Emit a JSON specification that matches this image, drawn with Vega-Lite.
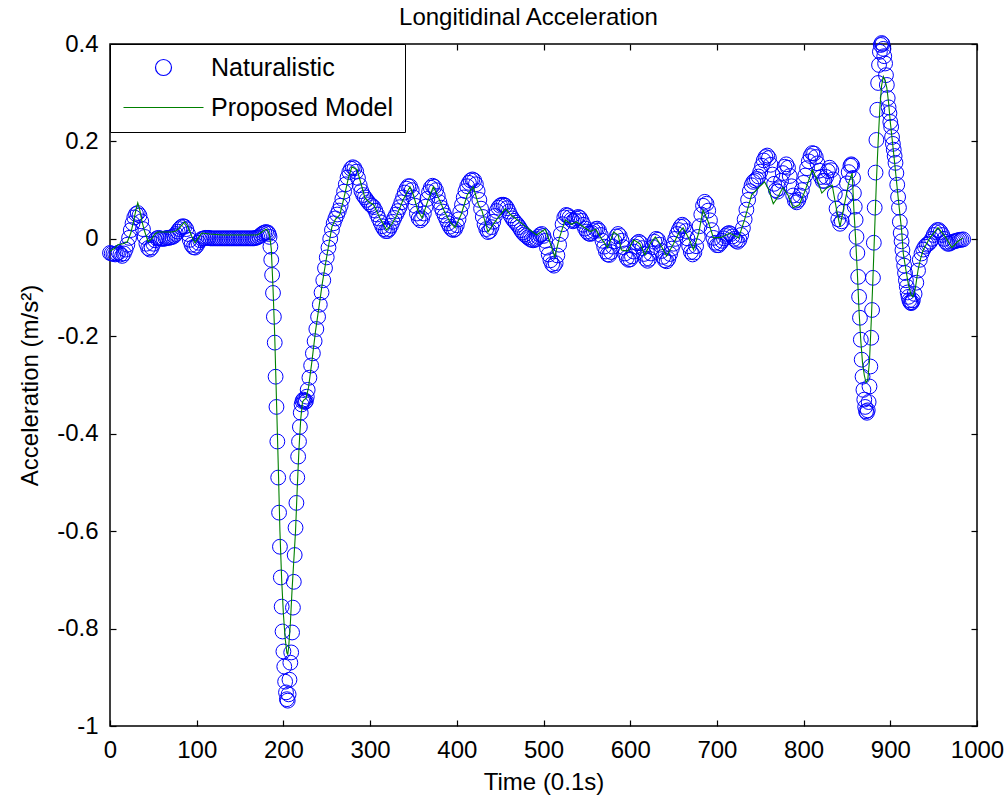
{
  "$schema": "https://vega.github.io/schema/vega-lite/v6.json",
  "width": 867,
  "height": 682,
  "autosize": "none",
  "padding": {"left": 110, "top": 44, "right": 31, "bottom": 77},
  "background": "white",
  "title": {"text": "Longitidinal Acceleration", "fontSize": 24, "fontWeight": "normal", "font": "Liberation Sans", "color": "black", "offset": 2, "dx": -15},
  "config": {
    "font": "Liberation Sans",
    "view": {"stroke": "black", "strokeWidth": 1.5},
    "axis": {
      "grid": false, "domain": false, "tickColor": "black", "tickSize": -6, "tickWidth": 1.2,
      "labelFontSize": 24, "labelColor": "black", "labelPadding": 18, "labelFont": "Liberation Sans",
      "labelFlush": false, "labelOverlap": false,
      "titleFontSize": 24, "titleFontWeight": "normal", "titleColor": "black", "titleFont": "Liberation Sans"
    },
    "legend": {
      "fillColor": "white", "strokeColor": "black", "padding": 11, "labelFontSize": 25, "labelColor": "black", "labelLimit": 0,
      "labelFont": "Liberation Sans", "symbolSize": 256, "symbolOffset": 30, "labelOffset": 35, "rowPadding": 14,
      "symbolStrokeWidth": 1.2, "symbolFillColor": "transparent"
    }
  },
  "datasets": {
    "nat": [
      {"t":0,"a":-0.029},{"t":2,"a":-0.03},{"t":4,"a":-0.031},{"t":6,"a":-0.032},{"t":8,"a":-0.03},{"t":10,"a":-0.028},{"t":12,"a":-0.032},{"t":14,"a":-0.035},{"t":16,"a":-0.03},{"t":18,"a":-0.022},
      {"t":20,"a":-0.012},{"t":22,"a":0.002},{"t":24,"a":0.018},{"t":26,"a":0.032},{"t":28,"a":0.044},{"t":30,"a":0.051},{"t":32,"a":0.053},{"t":34,"a":0.048},{"t":36,"a":0.036},{"t":38,"a":0.02},
      {"t":40,"a":0.004},{"t":42,"a":-0.01},{"t":44,"a":-0.019},{"t":46,"a":-0.022},{"t":48,"a":-0.018},{"t":50,"a":-0.01},{"t":52,"a":-0.003},{"t":54,"a":0.001},{"t":56,"a":0.002},{"t":58,"a":0.001},
      {"t":60,"a":0.0},{"t":62,"a":0.0},{"t":64,"a":0.001},{"t":66,"a":0.002},{"t":68,"a":0.002},{"t":70,"a":0.003},{"t":72,"a":0.004},{"t":74,"a":0.006},{"t":76,"a":0.01},{"t":78,"a":0.015},
      {"t":80,"a":0.02},{"t":82,"a":0.024},{"t":84,"a":0.026},{"t":86,"a":0.025},{"t":88,"a":0.02},{"t":90,"a":0.01},{"t":92,"a":-0.002},{"t":94,"a":-0.012},{"t":96,"a":-0.017},{"t":98,"a":-0.018},
      {"t":100,"a":-0.014},{"t":102,"a":-0.008},{"t":104,"a":-0.003},{"t":106,"a":0.0},{"t":108,"a":0.001},{"t":110,"a":0.002},{"t":112,"a":0.002},{"t":114,"a":0.002},{"t":116,"a":0.001},{"t":118,"a":0.001},
      {"t":120,"a":0.001},{"t":122,"a":0.001},{"t":124,"a":0.001},{"t":126,"a":0.001},{"t":128,"a":0.001},{"t":130,"a":0.001},{"t":132,"a":0.001},{"t":134,"a":0.001},{"t":136,"a":0.001},{"t":138,"a":0.001},
      {"t":140,"a":0.001},{"t":142,"a":0.001},{"t":144,"a":0.001},{"t":146,"a":0.001},{"t":148,"a":0.001},{"t":150,"a":0.001},{"t":152,"a":0.001},{"t":154,"a":0.001},{"t":156,"a":0.001},{"t":158,"a":0.001},
      {"t":160,"a":0.001},{"t":162,"a":0.001},{"t":164,"a":0.001},{"t":166,"a":0.001},{"t":168,"a":0.002},{"t":170,"a":0.003},{"t":172,"a":0.005},{"t":174,"a":0.008},{"t":176,"a":0.011},{"t":178,"a":0.013},
      {"t":180,"a":0.014},{"t":182,"a":0.013},{"t":183,"a":0.01},{"t":184,"a":0.004},{"t":185,"a":-0.016},{"t":186,"a":-0.043},{"t":187,"a":-0.074},{"t":188,"a":-0.111},{"t":189,"a":-0.16},
      {"t":190,"a":-0.213},{"t":191,"a":-0.283},{"t":192,"a":-0.345},{"t":193,"a":-0.416},{"t":194,"a":-0.49},{"t":195,"a":-0.562},{"t":196,"a":-0.632},{"t":197,"a":-0.695},{"t":198,"a":-0.755},{"t":199,"a":-0.806},
      {"t":200,"a":-0.847},{"t":201,"a":-0.878},{"t":202,"a":-0.909},{"t":203,"a":-0.931},{"t":204,"a":-0.945},{"t":205,"a":-0.948},{"t":206,"a":-0.935},{"t":207,"a":-0.905},{"t":208,"a":-0.87},{"t":209,"a":-0.849},
      {"t":210,"a":-0.808},{"t":211,"a":-0.757},{"t":212,"a":-0.704},{"t":213,"a":-0.649},{"t":214,"a":-0.593},{"t":215,"a":-0.542},{"t":216,"a":-0.49},{"t":217,"a":-0.447},{"t":218,"a":-0.416},{"t":219,"a":-0.386},
      {"t":220,"a":-0.357},{"t":221,"a":-0.34},{"t":222,"a":-0.333},{"t":223,"a":-0.33},{"t":224,"a":-0.332},{"t":225,"a":-0.335},{"t":226,"a":-0.333},{"t":227,"a":-0.324},{"t":228,"a":-0.31},
      {"t":230,"a":-0.285},{"t":232,"a":-0.26},{"t":234,"a":-0.235},{"t":236,"a":-0.21},{"t":238,"a":-0.185},{"t":240,"a":-0.16},{"t":242,"a":-0.135},{"t":244,"a":-0.11},{"t":246,"a":-0.085},{"t":248,"a":-0.06},
      {"t":250,"a":-0.038},{"t":252,"a":-0.018},{"t":254,"a":0.0},{"t":256,"a":0.018},{"t":258,"a":0.032},{"t":260,"a":0.042},{"t":262,"a":0.05},{"t":264,"a":0.058},{"t":266,"a":0.068},{"t":268,"a":0.082},
      {"t":270,"a":0.097},{"t":272,"a":0.112},{"t":274,"a":0.126},{"t":276,"a":0.137},{"t":278,"a":0.144},{"t":280,"a":0.147},{"t":282,"a":0.145},{"t":284,"a":0.138},{"t":286,"a":0.125},{"t":288,"a":0.11},
      {"t":290,"a":0.098},{"t":292,"a":0.09},{"t":294,"a":0.085},{"t":296,"a":0.08},{"t":298,"a":0.075},{"t":300,"a":0.071},{"t":302,"a":0.068},{"t":304,"a":0.065},{"t":306,"a":0.058},{"t":308,"a":0.05},
      {"t":310,"a":0.042},{"t":312,"a":0.034},{"t":314,"a":0.026},{"t":316,"a":0.02},{"t":318,"a":0.016},{"t":320,"a":0.016},{"t":322,"a":0.02},{"t":324,"a":0.027},{"t":326,"a":0.035},{"t":328,"a":0.043},
      {"t":330,"a":0.05},{"t":332,"a":0.057},{"t":334,"a":0.065},{"t":336,"a":0.075},{"t":338,"a":0.085},{"t":340,"a":0.095},{"t":342,"a":0.103},{"t":344,"a":0.108},{"t":346,"a":0.108},{"t":348,"a":0.1},
      {"t":350,"a":0.085},{"t":352,"a":0.068},{"t":354,"a":0.052},{"t":356,"a":0.042},{"t":358,"a":0.038},{"t":360,"a":0.042},{"t":362,"a":0.052},{"t":364,"a":0.066},{"t":366,"a":0.082},{"t":368,"a":0.096},
      {"t":370,"a":0.105},{"t":372,"a":0.109},{"t":374,"a":0.107},{"t":376,"a":0.1},{"t":378,"a":0.088},{"t":380,"a":0.075},{"t":382,"a":0.064},{"t":384,"a":0.056},{"t":386,"a":0.048},{"t":388,"a":0.04},
      {"t":390,"a":0.032},{"t":392,"a":0.025},{"t":394,"a":0.02},{"t":396,"a":0.018},{"t":398,"a":0.02},{"t":400,"a":0.028},{"t":402,"a":0.04},{"t":404,"a":0.055},{"t":406,"a":0.07},{"t":408,"a":0.085},
      {"t":410,"a":0.098},{"t":412,"a":0.108},{"t":414,"a":0.115},{"t":416,"a":0.12},{"t":418,"a":0.122},{"t":420,"a":0.12},{"t":422,"a":0.112},{"t":424,"a":0.098},{"t":426,"a":0.08},{"t":428,"a":0.062},
      {"t":430,"a":0.045},{"t":432,"a":0.03},{"t":434,"a":0.02},{"t":436,"a":0.014},{"t":438,"a":0.016},{"t":440,"a":0.024},{"t":442,"a":0.035},{"t":444,"a":0.047},{"t":446,"a":0.057},{"t":448,"a":0.064},
      {"t":450,"a":0.068},{"t":452,"a":0.07},{"t":454,"a":0.07},{"t":456,"a":0.068},{"t":458,"a":0.063},{"t":460,"a":0.056},{"t":462,"a":0.048},{"t":464,"a":0.042},{"t":466,"a":0.037},{"t":468,"a":0.033},
      {"t":470,"a":0.029},{"t":472,"a":0.024},{"t":474,"a":0.018},{"t":476,"a":0.013},{"t":478,"a":0.009},{"t":480,"a":0.006},{"t":482,"a":0.003},{"t":484,"a":0.0},{"t":486,"a":-0.002},{"t":488,"a":-0.003},
      {"t":490,"a":-0.002},{"t":492,"a":0.0},{"t":494,"a":0.004},{"t":496,"a":0.008},{"t":498,"a":0.01},{"t":500,"a":0.006},{"t":502,"a":-0.004},{"t":504,"a":-0.018},{"t":506,"a":-0.032},{"t":508,"a":-0.044},
      {"t":510,"a":-0.052},{"t":512,"a":-0.055},{"t":514,"a":-0.05},{"t":516,"a":-0.034},{"t":518,"a":-0.012},{"t":520,"a":0.01},{"t":522,"a":0.03},{"t":524,"a":0.044},{"t":526,"a":0.049},{"t":528,"a":0.048},
      {"t":530,"a":0.044},{"t":532,"a":0.039},{"t":534,"a":0.036},{"t":536,"a":0.038},{"t":538,"a":0.042},{"t":540,"a":0.045},{"t":542,"a":0.043},{"t":544,"a":0.037},{"t":546,"a":0.029},{"t":548,"a":0.021},
      {"t":550,"a":0.015},{"t":552,"a":0.011},{"t":554,"a":0.01},{"t":556,"a":0.012},{"t":558,"a":0.016},{"t":560,"a":0.02},{"t":562,"a":0.021},{"t":564,"a":0.017},{"t":566,"a":0.008},{"t":568,"a":-0.004},
      {"t":570,"a":-0.016},{"t":572,"a":-0.026},{"t":574,"a":-0.032},{"t":576,"a":-0.033},{"t":578,"a":-0.027},{"t":580,"a":-0.016},{"t":582,"a":-0.005},{"t":584,"a":0.005},{"t":586,"a":0.01},{"t":588,"a":0.006},
      {"t":590,"a":-0.004},{"t":592,"a":-0.017},{"t":594,"a":-0.03},{"t":596,"a":-0.039},{"t":598,"a":-0.043},{"t":600,"a":-0.042},{"t":602,"a":-0.036},{"t":604,"a":-0.026},{"t":606,"a":-0.016},{"t":608,"a":-0.009},
      {"t":610,"a":-0.006},{"t":612,"a":-0.009},{"t":614,"a":-0.019},{"t":616,"a":-0.031},{"t":618,"a":-0.041},{"t":620,"a":-0.045},{"t":622,"a":-0.041},{"t":624,"a":-0.03},{"t":626,"a":-0.017},{"t":628,"a":-0.006},
      {"t":630,"a":0.0},{"t":632,"a":-0.002},{"t":634,"a":-0.012},{"t":636,"a":-0.025},{"t":638,"a":-0.037},{"t":640,"a":-0.044},{"t":642,"a":-0.046},{"t":644,"a":-0.041},{"t":646,"a":-0.031},{"t":648,"a":-0.02},
      {"t":650,"a":-0.01},{"t":652,"a":0.0},{"t":654,"a":0.01},{"t":656,"a":0.018},{"t":658,"a":0.025},{"t":660,"a":0.029},{"t":662,"a":0.026},{"t":664,"a":0.016},{"t":666,"a":0.001},{"t":668,"a":-0.015},
      {"t":670,"a":-0.027},{"t":672,"a":-0.032},{"t":674,"a":-0.028},{"t":676,"a":-0.015},{"t":678,"a":0.004},{"t":680,"a":0.026},{"t":682,"a":0.05},{"t":684,"a":0.068},{"t":686,"a":0.076},{"t":688,"a":0.072},
      {"t":690,"a":0.058},{"t":692,"a":0.038},{"t":694,"a":0.018},{"t":696,"a":0.002},{"t":698,"a":-0.008},{"t":700,"a":-0.013},{"t":702,"a":-0.013},{"t":704,"a":-0.009},{"t":706,"a":-0.004},{"t":708,"a":0.001},
      {"t":710,"a":0.006},{"t":712,"a":0.01},{"t":714,"a":0.012},{"t":716,"a":0.01},{"t":718,"a":0.005},{"t":720,"a":0.0},{"t":722,"a":-0.004},{"t":724,"a":-0.006},{"t":726,"a":-0.002},{"t":728,"a":0.008},
      {"t":730,"a":0.022},{"t":732,"a":0.04},{"t":734,"a":0.06},{"t":736,"a":0.08},{"t":738,"a":0.098},{"t":740,"a":0.11},{"t":742,"a":0.117},{"t":744,"a":0.12},{"t":746,"a":0.123},{"t":748,"a":0.128},
      {"t":750,"a":0.138},{"t":752,"a":0.15},{"t":754,"a":0.161},{"t":756,"a":0.168},{"t":758,"a":0.171},{"t":760,"a":0.166},{"t":762,"a":0.152},{"t":764,"a":0.132},{"t":766,"a":0.113},{"t":768,"a":0.1},
      {"t":770,"a":0.097},{"t":772,"a":0.104},{"t":774,"a":0.119},{"t":776,"a":0.135},{"t":778,"a":0.148},{"t":780,"a":0.153},{"t":782,"a":0.146},{"t":784,"a":0.129},{"t":786,"a":0.108},{"t":788,"a":0.089},
      {"t":790,"a":0.078},{"t":792,"a":0.075},{"t":794,"a":0.08},{"t":796,"a":0.089},{"t":798,"a":0.1},{"t":800,"a":0.115},{"t":802,"a":0.13},{"t":804,"a":0.145},{"t":806,"a":0.159},{"t":808,"a":0.17},
      {"t":810,"a":0.176},{"t":812,"a":0.175},{"t":814,"a":0.168},{"t":816,"a":0.155},{"t":818,"a":0.14},{"t":820,"a":0.127},{"t":822,"a":0.119},{"t":824,"a":0.119},{"t":826,"a":0.127},{"t":828,"a":0.139},
      {"t":830,"a":0.146},{"t":832,"a":0.141},{"t":834,"a":0.122},{"t":836,"a":0.092},{"t":838,"a":0.062},{"t":840,"a":0.04},{"t":842,"a":0.031},{"t":844,"a":0.036},{"t":846,"a":0.056},{"t":848,"a":0.085},
      {"t":850,"a":0.114},{"t":852,"a":0.137},{"t":854,"a":0.15},{"t":855,"a":0.153},{"t":856,"a":0.151},{"t":857,"a":0.125},{"t":858,"a":0.094},{"t":859,"a":0.066},
      {"t":860,"a":0.039},{"t":861,"a":0.004},{"t":862,"a":-0.029},{"t":863,"a":-0.078},{"t":864,"a":-0.119},{"t":865,"a":-0.162},{"t":866,"a":-0.207},{"t":867,"a":-0.248},{"t":868,"a":-0.283},{"t":869,"a":-0.31},
      {"t":870,"a":-0.33},{"t":871,"a":-0.345},{"t":872,"a":-0.354},{"t":873,"a":-0.357},{"t":874,"a":-0.352},{"t":875,"a":-0.335},{"t":876,"a":-0.303},{"t":877,"a":-0.262},{"t":878,"a":-0.203},{"t":879,"a":-0.146},
      {"t":880,"a":-0.08},{"t":881,"a":-0.008},{"t":882,"a":0.064},{"t":883,"a":0.136},{"t":884,"a":0.203},{"t":885,"a":0.265},{"t":886,"a":0.32},{"t":887,"a":0.357},{"t":888,"a":0.384},{"t":889,"a":0.398},
      {"t":890,"a":0.402},{"t":891,"a":0.4},{"t":892,"a":0.39},{"t":893,"a":0.375},{"t":894,"a":0.36},{"t":895,"a":0.336},{"t":896,"a":0.316},{"t":897,"a":0.289},{"t":898,"a":0.27},{"t":899,"a":0.258},
      {"t":900,"a":0.24},{"t":901,"a":0.23},{"t":902,"a":0.209},{"t":903,"a":0.195},{"t":904,"a":0.183},{"t":905,"a":0.17},{"t":906,"a":0.156},{"t":907,"a":0.135},{"t":908,"a":0.111},{"t":909,"a":0.086},
      {"t":910,"a":0.064},{"t":911,"a":0.035},{"t":912,"a":0.012},{"t":913,"a":-0.005},{"t":914,"a":-0.023},{"t":915,"a":-0.04},{"t":916,"a":-0.055},{"t":917,"a":-0.07},{"t":918,"a":-0.085},{"t":919,"a":-0.098},
      {"t":920,"a":-0.11},{"t":921,"a":-0.119},{"t":922,"a":-0.126},{"t":923,"a":-0.13},{"t":924,"a":-0.132},{"t":925,"a":-0.13},{"t":926,"a":-0.126},{"t":928,"a":-0.113},
      {"t":930,"a":-0.09},{"t":932,"a":-0.065},{"t":934,"a":-0.043},{"t":936,"a":-0.03},{"t":938,"a":-0.022},{"t":940,"a":-0.016},{"t":942,"a":-0.012},{"t":944,"a":-0.01},{"t":946,"a":-0.006},{"t":948,"a":0.0},
      {"t":950,"a":0.008},{"t":952,"a":0.014},{"t":954,"a":0.018},{"t":956,"a":0.018},{"t":958,"a":0.014},{"t":960,"a":0.008},{"t":962,"a":0.0},{"t":964,"a":-0.006},{"t":966,"a":-0.01},{"t":968,"a":-0.01},
      {"t":970,"a":-0.008},{"t":972,"a":-0.006},{"t":974,"a":-0.005},{"t":976,"a":-0.004},{"t":978,"a":-0.003},{"t":980,"a":-0.002},{"t":982,"a":-0.002},{"t":984,"a":-0.001}
    ],
    "mod": [
      {"t":0,"m":-0.025},{"t":5,"m":-0.02},{"t":9,"m":-0.012},{"t":15,"m":-0.01},{"t":20,"m":-0.006},{"t":24,"m":0.012},{"t":27,"m":0.035},{"t":30,"m":0.06},{"t":32,"m":0.074},{"t":34,"m":0.062},
      {"t":37,"m":0.035},{"t":40,"m":0.015},{"t":44,"m":-0.006},{"t":48,"m":0.0},{"t":52,"m":0.01},{"t":55,"m":0.014},{"t":63,"m":0.014},{"t":71,"m":0.014},{"t":76,"m":0.016},{"t":80,"m":0.022},
      {"t":86,"m":0.035},{"t":89,"m":0.028},{"t":92,"m":0.015},{"t":95,"m":0.002},{"t":98,"m":-0.008},{"t":102,"m":0.002},{"t":106,"m":0.012},{"t":115,"m":0.01},{"t":130,"m":0.008},{"t":150,"m":0.008},
      {"t":170,"m":0.008},{"t":176,"m":0.015},{"t":180,"m":0.02},{"t":182,"m":0.017},{"t":184,"m":0.008},{"t":186,"m":-0.02},{"t":188,"m":-0.1},{"t":190,"m":-0.2},{"t":192,"m":-0.33},{"t":194,"m":-0.46},
      {"t":196,"m":-0.6},{"t":198,"m":-0.7},{"t":200,"m":-0.77},{"t":202,"m":-0.82},{"t":204,"m":-0.85},{"t":205,"m":-0.853},{"t":206,"m":-0.84},{"t":208,"m":-0.79},{"t":210,"m":-0.72},{"t":212,"m":-0.66},
      {"t":214,"m":-0.6},{"t":216,"m":-0.51},{"t":218,"m":-0.43},{"t":220,"m":-0.37},{"t":222,"m":-0.335},{"t":224,"m":-0.33},{"t":226,"m":-0.328},{"t":229,"m":-0.305},{"t":233,"m":-0.25},{"t":237,"m":-0.19},
      {"t":241,"m":-0.14},{"t":245,"m":-0.09},{"t":250,"m":-0.036},{"t":256,"m":0.025},{"t":260,"m":0.04},{"t":265,"m":0.049},{"t":270,"m":0.085},{"t":275,"m":0.125},{"t":279,"m":0.148},{"t":285,"m":0.142},
      {"t":290,"m":0.11},{"t":294,"m":0.084},{"t":299,"m":0.075},{"t":304,"m":0.07},{"t":312,"m":0.04},{"t":319,"m":0.018},{"t":325,"m":0.03},{"t":331,"m":0.049},{"t":338,"m":0.08},{"t":346,"m":0.107},
      {"t":350,"m":0.09},{"t":355,"m":0.058},{"t":360,"m":0.043},{"t":367,"m":0.08},{"t":373,"m":0.107},{"t":380,"m":0.08},{"t":386,"m":0.055},{"t":392,"m":0.035},{"t":398,"m":0.023},{"t":405,"m":0.05},
      {"t":412,"m":0.09},{"t":419,"m":0.107},{"t":425,"m":0.07},{"t":429,"m":0.058},{"t":436,"m":0.014},{"t":446,"m":0.04},{"t":456,"m":0.062},{"t":462,"m":0.05},{"t":469,"m":0.04},{"t":481,"m":0.023},
      {"t":492,"m":0.008},{"t":502,"m":0.02},{"t":508,"m":-0.01},{"t":513,"m":-0.037},{"t":518,"m":0.0},{"t":525,"m":0.039},{"t":532,"m":0.03},{"t":538,"m":0.035},{"t":546,"m":0.025},{"t":554,"m":0.015},
      {"t":560,"m":0.02},{"t":567,"m":0.0},{"t":574,"m":-0.018},{"t":581,"m":0.014},{"t":586,"m":0.008},{"t":590,"m":-0.023},{"t":597,"m":-0.025},{"t":604,"m":-0.002},{"t":611,"m":-0.01},{"t":617,"m":-0.033},
      {"t":623,"m":-0.01},{"t":629,"m":0.004},{"t":635,"m":-0.012},{"t":642,"m":-0.035},{"t":650,"m":-0.01},{"t":656,"m":0.012},{"t":661,"m":0.023},{"t":667,"m":0.003},{"t":673,"m":-0.022},{"t":679,"m":0.012},
      {"t":684,"m":0.059},{"t":690,"m":0.035},{"t":696,"m":0.002},{"t":705,"m":0.003},{"t":715,"m":0.012},{"t":725,"m":0.002},{"t":732,"m":0.04},{"t":740,"m":0.09},{"t":748,"m":0.105},{"t":755,"m":0.117},
      {"t":760,"m":0.1},{"t":765,"m":0.072},{"t":770,"m":0.085},{"t":776,"m":0.105},{"t":782,"m":0.09},{"t":788,"m":0.064},{"t":795,"m":0.07},{"t":802,"m":0.1},{"t":810,"m":0.142},{"t":816,"m":0.12},
      {"t":821,"m":0.094},{"t":827,"m":0.105},{"t":833,"m":0.11},{"t":838,"m":0.06},{"t":842,"m":0.025},{"t":847,"m":0.07},{"t":852,"m":0.115},{"t":856,"m":0.135},{"t":858,"m":0.06},{"t":860,"m":0.0},
      {"t":862,"m":-0.07},{"t":864,"m":-0.15},{"t":866,"m":-0.21},{"t":868,"m":-0.255},{"t":870,"m":-0.28},{"t":872,"m":-0.295},{"t":874,"m":-0.29},{"t":876,"m":-0.25},{"t":878,"m":-0.17},{"t":880,"m":-0.08},
      {"t":882,"m":0.02},{"t":884,"m":0.12},{"t":886,"m":0.2},{"t":888,"m":0.27},{"t":890,"m":0.315},{"t":892,"m":0.333},{"t":894,"m":0.325},{"t":896,"m":0.31},{"t":898,"m":0.28},{"t":900,"m":0.24},
      {"t":903,"m":0.19},{"t":905,"m":0.156},{"t":909,"m":0.086},{"t":913,"m":0.018},{"t":915,"m":-0.03},{"t":918,"m":-0.064},{"t":921,"m":-0.095},{"t":924,"m":-0.115},{"t":926,"m":-0.119},{"t":929,"m":-0.1},
      {"t":932,"m":-0.064},{"t":935,"m":-0.04},{"t":938,"m":-0.023},{"t":945,"m":0.0},{"t":955,"m":0.023},{"t":963,"m":0.005},{"t":971,"m":-0.018},{"t":978,"m":-0.005},{"t":984,"m":0.002}
    ]
  },
  "layer": [
    {
      "data": {"name": "nat"},
      "mark": {"type": "point", "filled": false, "size": 220, "strokeWidth": 1, "opacity": 1},
      "encoding": {
        "x": {"field": "t", "type": "quantitative", "scale": {"domain": [0, 1000], "nice": false},
              "axis": {"orient": "bottom", "values": [0,100,200,300,400,500,600,700,800,900,1000], "format": "d", "title": "Time (0.1s)", "titlePadding": 8}},
        "y": {"field": "a", "type": "quantitative", "scale": {"domain": [-1, 0.4], "nice": false, "zero": false},
              "axis": {"orient": "left", "values": [-1,-0.8,-0.6,-0.4,-0.2,0,0.2,0.4], "title": "Acceleration (m/s²)", "titlePadding": 14,
                       "labelExpr": "replace(format(datum.value, '.1~f'), '\u2212', '-')"}},
        "color": {"datum": "Naturalistic", "type": "nominal",
                  "scale": {"domain": ["Naturalistic", "Proposed Model"], "range": ["#0000ff", "#008000"]},
                  "legend": {"title": null, "orient": "top-left", "offset": 0}},
        "shape": {"datum": "Naturalistic", "type": "nominal",
                  "scale": {"domain": ["Naturalistic", "Proposed Model"], "range": ["circle", "M-5,0H5"]},
                  "legend": {"title": null, "orient": "top-left", "offset": 0}}
      }
    },
    {
      "data": {"name": "mod"},
      "mark": {"type": "line", "strokeWidth": 1.1},
      "encoding": {
        "x": {"field": "t", "type": "quantitative", "axis": {"orient": "top", "labels": false, "title": null, "values": [0,100,200,300,400,500,600,700,800,900,1000]}},
        "y": {"field": "m", "type": "quantitative", "axis": {"orient": "right", "labels": false, "title": null, "values": [-1,-0.8,-0.6,-0.4,-0.2,0,0.2,0.4]}},
        "color": {"datum": "Proposed Model", "type": "nominal"}
      }
    }
  ],
  "resolve": {"axis": {"x": "independent", "y": "independent"}}
}
